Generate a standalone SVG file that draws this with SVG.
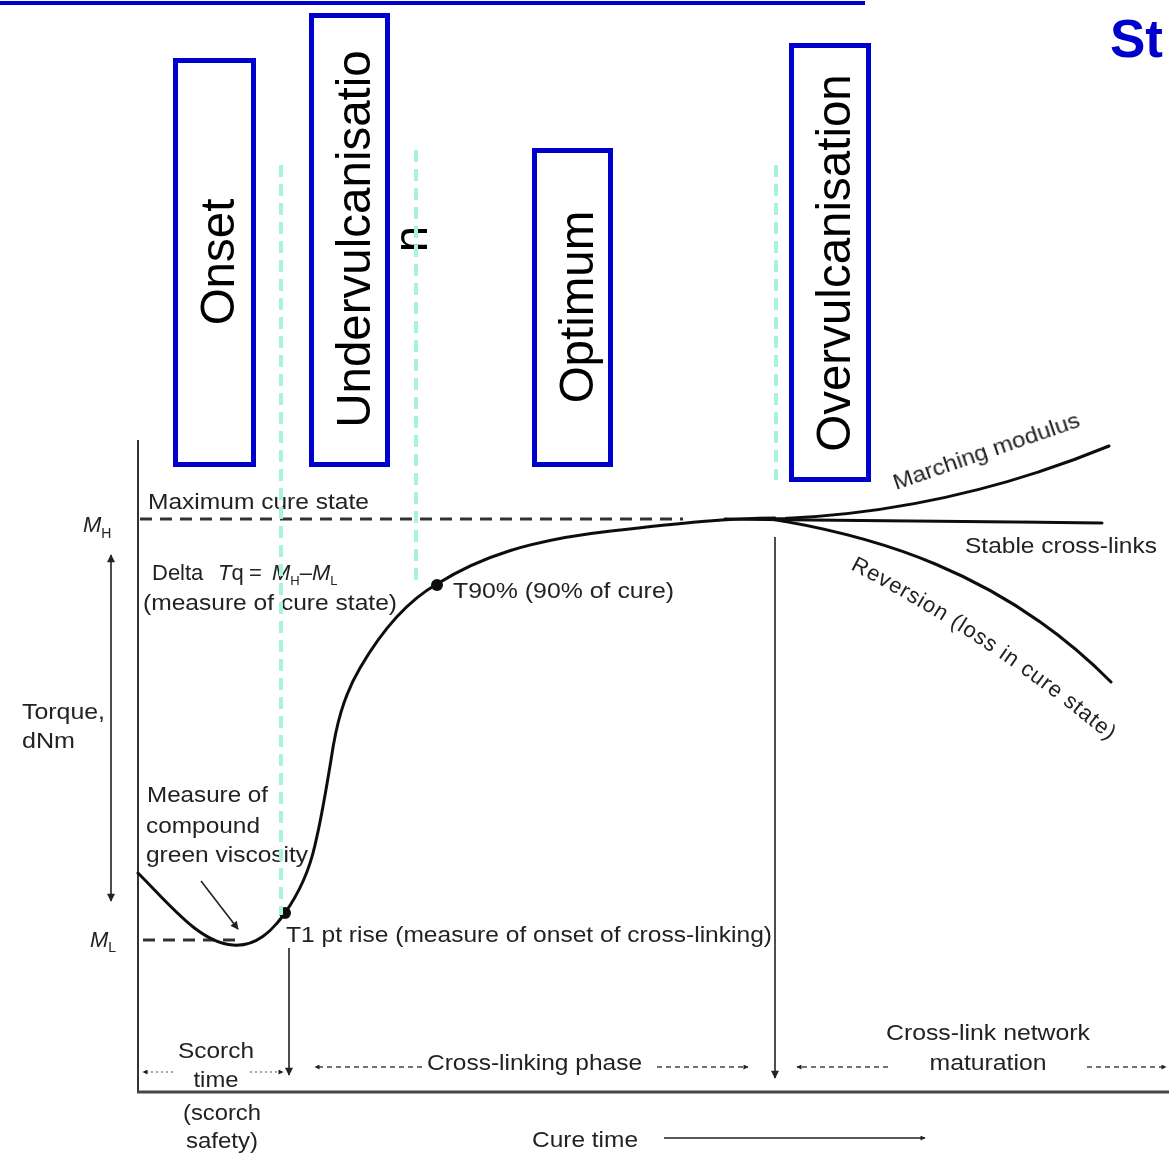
<svg xmlns="http://www.w3.org/2000/svg" width="1169" height="1160" viewBox="0 0 1169 1160">
  <style>
    .phase { fill: none; stroke: #0000cc; stroke-width: 5; }
    .phase-label { font-family: "Liberation Sans", Arial, sans-serif; font-size: 47.5px; fill: #000; text-anchor: middle; }
    .guide { stroke: #a8f5d6; stroke-width: 4; stroke-dasharray: 12 7; fill: none; }
    .lbl { font-family: "Liberation Sans", Arial, sans-serif; font-size: 22px; fill: #222; }
    .mid { text-anchor: middle; }
    .axis { stroke: #333; stroke-width: 2; fill: none; }
    .curve { stroke: #111; stroke-width: 3; fill: none; stroke-linecap: round; }
    .level { stroke: #333; stroke-width: 3; stroke-dasharray: 12 8; fill: none; }
    .thin { stroke: #222; stroke-width: 1.6; fill: none; }
    .dash-arrow { stroke: #444; stroke-width: 1.6; stroke-dasharray: 5 4; fill: none; }
    .dot-arrow { stroke: #888; stroke-width: 1.6; stroke-dasharray: 2 3; fill: none; }
  </style>
  <defs>
    <marker id="head" viewBox="0 0 10 10" refX="9" refY="5" markerWidth="6" markerHeight="5" markerUnits="userSpaceOnUse" orient="auto-start-reverse">
      <path d="M0,0 L10,5 L0,10 Z" fill="#222"/>
    </marker>
    <marker id="head-lg" viewBox="0 0 10 10" refX="9" refY="5" markerWidth="9" markerHeight="8" markerUnits="userSpaceOnUse" orient="auto-start-reverse">
      <path d="M0,0 L10,5 L0,10 Z" fill="#222"/>
    </marker>
    <path id="reversion-baseline" d="M850,569 Q992,642 1116,747"/>
    <!-- the printed plot is slightly soft -->
    <filter id="soft" x="-2%" y="-2%" width="104%" height="104%">
      <feGaussianBlur stdDeviation="0.45"/>
    </filter>
  </defs>

  <!-- title rule and heading -->
  <line x1="0" y1="3" x2="865" y2="3" stroke="#0000cc" stroke-width="4"/>
  <text x="1110" y="57" font-family="'Liberation Sans', Arial, sans-serif" font-size="53" font-weight="bold" fill="#0000cc">St</text>

  <g filter="url(#soft)">
    <!-- axes -->
    <g id="axes">
      <line class="axis" x1="138" y1="440" x2="138" y2="1093"/>
      <line x1="137" y1="1092" x2="1169" y2="1092" stroke="#444" stroke-width="3"/>
      <line class="level" x1="140" y1="519" x2="683" y2="519"/>
      <line class="level" x1="143" y1="940" x2="235" y2="940"/>
      <text class="lbl" x="83" y="532" font-style="italic" font-size="23">M<tspan font-size="14" font-style="normal" dy="6">H</tspan></text>
      <text class="lbl" x="90" y="947" font-style="italic" font-size="23">M<tspan font-size="14" font-style="normal" dy="5">L</tspan></text>
      <text class="lbl" x="22" y="719" textLength="83" lengthAdjust="spacingAndGlyphs">Torque,</text>
      <text class="lbl" x="22" y="748" textLength="53" lengthAdjust="spacingAndGlyphs">dNm</text>
    </g>

    <!-- cure curve and its three end branches -->
    <g id="cure-curve">
      <path class="curve" d="M138,873 C170,905 200,943 233,945 C256,947 272,931 285,913 C299,893 309,872 315,845 C322,816 326,790 331,760 C336,726 343,697 360,668 C378,637 402,604 437,584 C480,557 530,540 611,531 C680,523 730,518 775,518"/>
      <path class="curve" d="M770,519 C870,516 985,497 1109,446"/>
      <path class="curve" d="M725,519 L1102,523"/>
      <path class="curve" d="M770,519 C870,535 1000,570 1111,682"/>
      <circle cx="285" cy="913" r="6" fill="#111"/>
      <circle cx="437" cy="585" r="6" fill="#111"/>
    </g>

    <!-- annotations -->
    <g id="annotations">
      <text class="lbl" x="148" y="509" textLength="221" lengthAdjust="spacingAndGlyphs">Maximum cure state</text>
      <text class="lbl" y="580">
        <tspan x="152">Delta</tspan>
        <tspan x="218" font-style="italic">T</tspan><tspan>q</tspan>
        <tspan x="249">=</tspan>
        <tspan x="272" font-style="italic">M</tspan><tspan font-size="13" dy="5">H</tspan><tspan dy="-5">–</tspan><tspan font-style="italic">M</tspan><tspan font-size="13" dy="5">L</tspan>
      </text>
      <text class="lbl" x="143" y="610" textLength="254" lengthAdjust="spacingAndGlyphs">(measure of cure state)</text>
      <text class="lbl" x="453" y="598" textLength="221" lengthAdjust="spacingAndGlyphs">T90% (90% of cure)</text>
      <text class="lbl" x="147" y="802" textLength="121" lengthAdjust="spacingAndGlyphs">Measure of</text>
      <text class="lbl" x="146" y="833" textLength="114" lengthAdjust="spacingAndGlyphs">compound</text>
      <text class="lbl" x="146" y="862" textLength="162" lengthAdjust="spacingAndGlyphs">green viscosity</text>
      <text class="lbl" x="286" y="942" textLength="486" lengthAdjust="spacingAndGlyphs">T1 pt rise (measure of onset of cross-linking)</text>
      <text class="lbl" x="965" y="553" textLength="192" lengthAdjust="spacingAndGlyphs">Stable cross-links</text>
      <text class="lbl" transform="translate(896,490) rotate(-19)" textLength="196" lengthAdjust="spacingAndGlyphs">Marching modulus</text>
      <text class="lbl" letter-spacing="0.9"><textPath href="#reversion-baseline">Reversion (loss in cure state)</textPath></text>
      <text class="lbl mid" x="216" y="1058" textLength="76" lengthAdjust="spacingAndGlyphs">Scorch</text>
      <text class="lbl mid" x="216" y="1087" textLength="45" lengthAdjust="spacingAndGlyphs">time</text>
      <text class="lbl mid" x="222" y="1120" textLength="78" lengthAdjust="spacingAndGlyphs">(scorch</text>
      <text class="lbl mid" x="222" y="1148" textLength="72" lengthAdjust="spacingAndGlyphs">safety)</text>
      <text class="lbl" x="427" y="1070" textLength="215" lengthAdjust="spacingAndGlyphs">Cross-linking phase</text>
      <text class="lbl mid" x="988" y="1040" textLength="204" lengthAdjust="spacingAndGlyphs">Cross-link network</text>
      <text class="lbl mid" x="988" y="1070" textLength="117" lengthAdjust="spacingAndGlyphs">maturation</text>
      <text class="lbl" x="532" y="1147" textLength="106" lengthAdjust="spacingAndGlyphs">Cure time</text>
    </g>

    <!-- arrows -->
    <g id="connectors">
      <line class="thin" x1="111" y1="555" x2="111" y2="901" marker-start="url(#head-lg)" marker-end="url(#head-lg)"/>
      <line class="thin" x1="201" y1="881" x2="238" y2="929" marker-end="url(#head-lg)"/>
      <line class="thin" x1="289" y1="948" x2="289" y2="1075" marker-end="url(#head-lg)"/>
      <line class="thin" x1="775" y1="537" x2="775" y2="1078" marker-end="url(#head-lg)"/>
      <line class="dot-arrow" x1="173" y1="1072" x2="143" y2="1072" marker-end="url(#head)"/>
      <line class="dot-arrow" x1="250" y1="1072" x2="283" y2="1072" marker-end="url(#head)"/>
      <line class="dash-arrow" x1="422" y1="1067" x2="315" y2="1067" marker-end="url(#head)"/>
      <line class="dash-arrow" x1="657" y1="1067" x2="748" y2="1067" marker-end="url(#head)"/>
      <line class="dash-arrow" x1="888" y1="1067" x2="797" y2="1067" marker-end="url(#head)"/>
      <line class="dash-arrow" x1="1087" y1="1067" x2="1166" y2="1067" marker-end="url(#head)"/>
      <line class="thin" x1="664" y1="1138" x2="925" y2="1138" marker-end="url(#head)"/>
    </g>
  </g>

  <!-- phase boxes -->
  <g id="phase-onset">
    <rect class="phase" x="175.5" y="60.5" width="78" height="404"/>
    <text class="phase-label" transform="translate(234,262) rotate(-90)">Onset</text>
  </g>
  <g id="phase-undervulcanisation">
    <rect class="phase" x="311.5" y="15.5" width="76" height="449"/>
    <text class="phase-label" transform="translate(370,239) rotate(-90)">Undervulcanisatio<tspan x="0" dy="57">n</tspan></text>
  </g>
  <g id="phase-optimum">
    <rect class="phase" x="534.5" y="150.5" width="76" height="314"/>
    <text class="phase-label" transform="translate(593,307) rotate(-90)">Optimum</text>
  </g>
  <g id="phase-overvulcanisation">
    <rect class="phase" x="791.5" y="45.5" width="77" height="434"/>
    <text class="phase-label" transform="translate(850,263) rotate(-90)">Overvulcanisation</text>
  </g>

  <!-- phase boundary guides -->
  <g id="guides">
    <line class="guide" x1="281" y1="165" x2="281" y2="915"/>
    <line class="guide" x1="416" y1="150" x2="416" y2="585"/>
    <line class="guide" x1="776" y1="165" x2="776" y2="480"/>
  </g>
</svg>
